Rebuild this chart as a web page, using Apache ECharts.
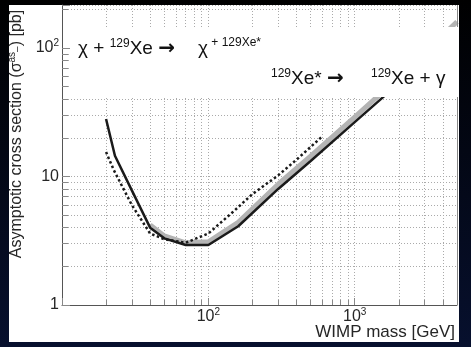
<!DOCTYPE html>
<html>
<head>
<meta charset="utf-8">
<script src="https://cdn.jsdelivr.net/npm/echarts@6/dist/echarts.min.js"></script>
<style>
  html, body { margin: 0; padding: 0; background: #02030c; }
  #chart { width: 471px; height: 347px; }
</style>
</head>
<body>
<div id="chart"></div>
<script>
// WIMP mass [GeV] vs asymptotic cross section [pb]
const massSolid = [20, 23, 30, 40, 50, 70, 100, 160, 300, 500, 1000, 2000, 5000];
const sigmaSolid = [28, 14.5, 7.8, 4.0, 3.3, 2.93, 2.93, 4.1, 8.0, 13.2, 26.5, 53, 135];

const massBand = [40, 50, 70, 100, 160, 300, 500, 1000, 2000, 5000];
const sigmaBand = [4.2, 3.45, 3.05, 3.1, 4.4, 8.7, 14.4, 29, 59, 160];

const massDotted = [20, 22.6, 30, 40, 50, 70, 100, 150, 200, 300, 400, 600];
const sigmaDotted = [15.5, 11.2, 6.0, 3.6, 3.25, 3.05, 3.6, 5.4, 7.3, 10.2, 13.5, 20.5];

const xTickValues = [100, 1000];
const xTickText = ['10{s|2}', '10{s|3}'];
const yTickValues = [1, 10, 100];
const yTickText = ['1', '10', '10{s|2}'];

function pairs(xs, ys) {
  return xs.map((x, i) => [x, ys[i]]);
}

const chart = echarts.init(document.getElementById('chart'));

const labelRich = {
  s: { fontSize: 10, color: '#262626', fontFamily: 'Liberation Sans', padding: [0, 0, 9, 0] }
};
const boxRich = {
  s: { fontSize: 12, fill: '#111', fontFamily: 'Liberation Sans', padding: [0, 0, 10, 0] },
  a: { fontSize: 20, fill: '#111', fontFamily: 'DejaVu Sans', fontWeight: 'bold' }
};

const option = {
  animation: false,
  backgroundColor: new echarts.graphic.LinearGradient(0, 0, 0, 1, [
    { offset: 0, color: '#000000' },
    { offset: 1, color: '#07102e' }
  ]),
  grid: { left: 62, right: 14, top: 5, bottom: 42, containLabel: false },
  xAxis: {
    type: 'log',
    min: 10,
    max: 5000,
    axisLine: { lineStyle: { color: '#555', width: 1 } },
    axisTick: { inside: true, length: 7, lineStyle: { color: '#888' } },
    minorTick: { show: true, splitNumber: 9, length: 5, lineStyle: { color: '#888' } },
    splitLine: { show: true, lineStyle: { color: '#aaa', type: [1, 2] } },
    minorSplitLine: { show: true, lineStyle: { color: '#aaa', type: [1, 2] } },
    axisLabel: {
      showMinLabel: false,
      showMaxLabel: false,
      margin: 2,
      color: '#262626',
      fontFamily: 'Liberation Sans',
      fontSize: 16,
      rich: labelRich,
      formatter: function (v) {
        const i = xTickValues.indexOf(v);
        return i >= 0 ? xTickText[i] : '';
      }
    }
  },
  yAxis: {
    type: 'log',
    min: 1,
    max: 216,
    axisLine: { show: true, lineStyle: { color: '#555', width: 1 } },
    axisTick: { show: true, inside: true, length: 8, lineStyle: { color: '#888' } },
    minorTick: { show: true, splitNumber: 9, length: 6, lineStyle: { color: '#888' } },
    splitLine: { show: true, lineStyle: { color: '#aaa', type: [1, 2] } },
    minorSplitLine: { show: true, lineStyle: { color: '#aaa', type: [1, 2] } },
    axisLabel: {
      showMaxLabel: false,
      margin: 3,
      color: '#262626',
      fontFamily: 'Liberation Sans',
      fontSize: 16,
      rich: labelRich,
      formatter: function (v) {
        const i = yTickValues.indexOf(v);
        return i >= 0 ? yTickText[i] : '';
      }
    }
  },
  graphic: [
    { type: 'rect', z: -10, shape: { x: 9, y: 5, width: 450, height: 337 }, style: { fill: '#ffffff' } },
    { type: 'line', z: 5, shape: { x1: 457.5, y1: 5, x2: 457.5, y2: 305 }, style: { stroke: '#888', lineWidth: 1 } },
    {
      type: 'text', z: 5, x: 17, y: 134, rotation: Math.PI / 2,
      style: {
        text: 'Asymptotic cross section (σ{s|as}{b|–}) [pb]',
        align: 'center', verticalAlign: 'middle',
        fill: '#262626', font: '16px "Liberation Sans"',
        rich: {
          s: { fontSize: 10, fill: '#262626', fontFamily: 'Liberation Sans', padding: [0, 0, 9, 0] },
          b: { fontSize: 10, fill: '#262626', fontFamily: 'Liberation Sans' }
        }
      }
    },
    {
      type: 'text', z: 5, x: 455, y: 332,
      style: {
        text: 'WIMP mass [GeV]', align: 'right', verticalAlign: 'middle',
        fill: '#262626', font: '17px "Liberation Sans"'
      }
    },
    // reaction annotation box
    { type: 'rect', z: 50, shape: { x: 70, y: 27, width: 389, height: 70 }, style: { fill: '#ffffff' } },
    {
      type: 'text', z: 51, x: 78, y: 49,
      style: { text: 'χ + {s|129}Xe {a|→}', verticalAlign: 'middle', fill: '#111', font: '19px "Liberation Sans"', rich: boxRich }
    },
    {
      type: 'text', z: 51, x: 198, y: 49,
      style: {
        text: 'χ{s| + 129Xe*}', verticalAlign: 'middle', fill: '#111', font: '19px "Liberation Sans"',
        rich: { s: { fontSize: 12, fill: '#111', fontFamily: 'Liberation Sans', padding: [0, 0, 12, 0] } }
      }
    },
    {
      type: 'text', z: 51, x: 271, y: 79,
      style: { text: '{s|129}Xe* {a|→}', verticalAlign: 'middle', fill: '#111', font: '19px "Liberation Sans"', rich: boxRich }
    },
    {
      type: 'text', z: 51, x: 371, y: 79,
      style: { text: '{s|129}Xe + γ', verticalAlign: 'middle', fill: '#111', font: '19px "Liberation Sans"', rich: boxRich }
    }
  ],
  series: [
    {
      name: 'band',
      type: 'line',
      data: pairs(massBand, sigmaBand),
      showSymbol: false,
      z: 3,
      lineStyle: { color: '#b4b4b4', width: 5 }
    },
    {
      name: 'solid',
      type: 'line',
      data: pairs(massSolid, sigmaSolid),
      showSymbol: false,
      z: 4,
      lineStyle: { color: '#1a1a1a', width: 2.5 }
    },
    {
      name: 'dotted',
      type: 'line',
      data: pairs(massDotted, sigmaDotted),
      showSymbol: false,
      z: 4,
      lineStyle: { color: '#1a1a1a', width: 2.5, type: [2.5, 2.5] }
    }
  ]
};

chart.setOption(option);
</script>
</body>
</html>
